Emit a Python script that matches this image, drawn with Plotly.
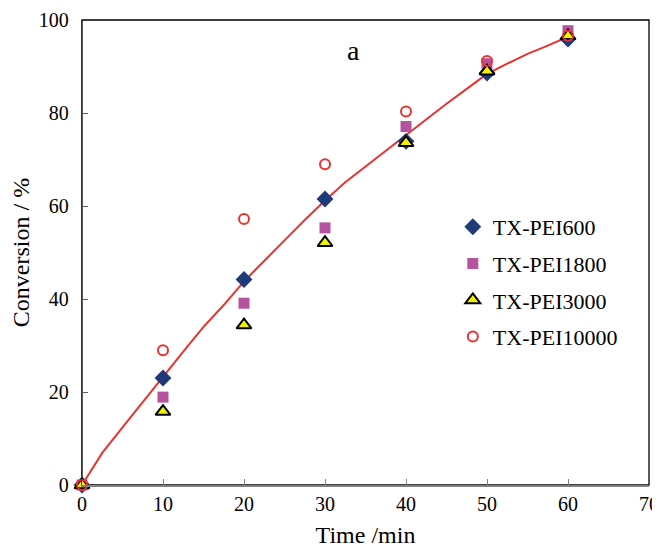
import plotly.graph_objects as go

time_points = [0, 10, 20, 30, 40, 50, 60]
pei600 = [0, 23.0, 44.2, 61.5, 73.9, 88.6, 95.9]
pei1800 = [0, 18.9, 39.1, 55.3, 77.1, 90.6, 97.7]
pei3000 = [0, 15.8, 34.4, 52.1, 73.6, 89.0, 96.6]
pei10000 = [0, 29.0, 57.2, 69.0, 80.3, 91.2, 96.6]

fit_time = [0, 2.5, 5, 7.5, 10, 12.5, 15, 17.5, 20, 22.5, 25, 27.5, 30, 32.5,
            35, 37.5, 40, 42.5, 45, 47.5, 50, 52.5, 55, 57.5, 60]
fit_conv = [0, 6.9, 12.4, 17.9, 23.3, 28.7, 34.0, 38.7, 43.8, 48.3, 52.6, 57.0,
            61.2, 65.1, 68.5, 72.0, 75.4, 78.6, 82.0, 85.2, 88.4, 90.6, 92.7, 94.5, 96.4]

x_ticks = [0, 10, 20, 30, 40, 50, 60, 70]
y_ticks = [0, 20, 40, 60, 80, 100]

FONT = "Liberation Serif, Times New Roman, serif"
RED = "#E8332E"

fig = go.Figure()

fig.add_trace(go.Scatter(x=fit_time, y=fit_conv, mode="lines",
                         line=dict(color=RED, width=2), showlegend=False,
                         hoverinfo="skip"))

fig.add_trace(go.Scatter(x=time_points, y=pei600, mode="markers", name="TX-PEI600",
                         legendgroup="a",
                         marker=dict(symbol="diamond", size=13, color="#1F3A78",
                                     line=dict(width=0))))
fig.add_trace(go.Scatter(x=time_points, y=pei1800, mode="markers", name="TX-PEI1800",
                         legendgroup="b",
                         marker=dict(symbol="square", size=11, color="#B5539F",
                                     line=dict(width=0))))
fig.add_trace(go.Scatter(x=time_points, y=pei3000, mode="markers", name="TX-PEI3000",
                         legendgroup="c",
                         marker=dict(symbol="triangle-up", size=13, color="#F2F200",
                                     line=dict(width=2, color="black"))))
fig.add_trace(go.Scatter(x=time_points, y=pei10000, mode="markers", name="TX-PEI10000",
                         legendgroup="d",
                         marker=dict(symbol="circle-open", size=10, color=RED,
                                     line=dict(width=2, color=RED))))

fig.add_annotation(x=33.5, y=93.5, text="a", showarrow=False,
                   font=dict(family=FONT, size=28, color="black"))

fig.add_shape(type="rect", xref="paper", yref="paper", x0=0, y0=0, x1=1, y1=1,
              line=dict(color="black", width=1.3), layer="below")

# The page body has an 8px default margin, so the figure is sized to fit
fig.update_layout(
    width=652, height=540,
    margin=dict(l=74, r=11, t=12, b=63),
    paper_bgcolor="white", plot_bgcolor="white",
    font=dict(family=FONT, size=20, color="black"),
    legend=dict(x=0.654, y=0.600, xanchor="left", yanchor="top",
                font=dict(family=FONT, size=22, color="black"),
                bgcolor="rgba(0,0,0,0)", tracegroupgap=5),
    xaxis=dict(range=[0, 70], tickvals=x_ticks, ticks="inside", ticklen=6,
               tickcolor="#808080", showline=True, linecolor="#808080", linewidth=2,
               showgrid=False, zeroline=False, automargin=False,
               ticklabeloverflow="allow",
               title=dict(text="Time /min", font=dict(family=FONT, size=24), standoff=12),
               tickfont=dict(family=FONT, size=20)),
    yaxis=dict(range=[0, 100], tickvals=y_ticks, ticks="inside", ticklen=6,
               tickcolor="#606060", showline=True, linecolor="#333333", linewidth=1.3,
               showgrid=False, zeroline=False, automargin=False, ticklabelstandoff=8,
               ticklabeloverflow="allow",
               title=dict(text="Conversion / %", font=dict(family=FONT, size=24), standoff=4),
               tickfont=dict(family=FONT, size=20)),
)

fig.update_traces(cliponaxis=False, selector=dict(mode="markers"))

fig.write_html("out.html")
